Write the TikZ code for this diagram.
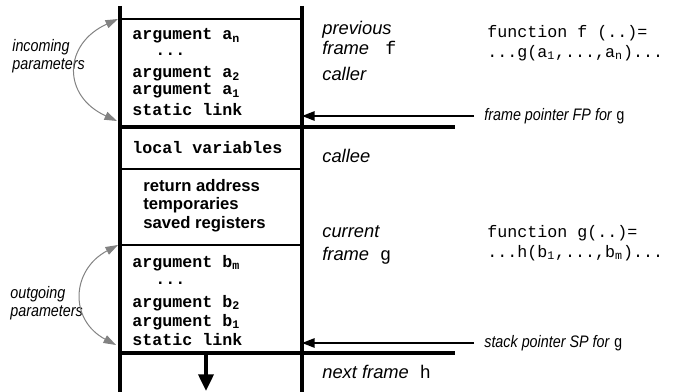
\documentclass[tikz,border=0pt]{standalone}
\usepackage{fontspec}
\setmainfont{Liberation Sans}
\setmonofont{Liberation Mono}
\usepackage{graphicx}
\usetikzlibrary{arrows.meta,positioning}
\definecolor{linkgray}{RGB}{130,130,130}
\newcommand{\narrow}[1]{\scalebox{0.86}[1]{#1}}
\newcommand{\ident}[1]{\textup{\ttfamily\ #1}}
\tikzset{
  wall/.style={line width=2pt},
  sep/.style={line width=1.2pt},
  bigsep/.style={line width=2.4pt},
  slot/.style={anchor=west,inner sep=0pt,font=\fontsize{10}{12}\selectfont\ttfamily\bfseries},
  saved/.style={anchor=west,inner sep=0pt,font=\fontsize{10}{12}\selectfont\bfseries},
  role/.style={anchor=west,inner sep=0pt,align=left,font=\fontsize{11}{12.5}\selectfont\itshape},
  side/.style={anchor=west,inner sep=0pt,align=left,font=\fontsize{10}{10.8}\selectfont\itshape},
  code/.style={anchor=west,inner sep=0pt,align=left,font=\fontsize{10}{12}\selectfont\ttfamily},
  pointer/.style={anchor=west,inner xsep=6pt,inner ysep=0pt,font=\fontsize{10}{12}\selectfont\itshape},
  ptr/.style={-{Triangle[length=7.5pt,width=5.5pt]},line width=1.2pt},
  push/.style={-{Triangle[length=10pt,width=9pt]},line width=2.2pt},
  param/.style={{Triangle[length=7.5pt,width=5pt]}-{Triangle[length=7.5pt,width=5pt]},
    draw=linkgray,fill=none,line width=0.6pt},
}
\begin{document}
\begin{tikzpicture}[x=0.6pt,y=-0.6pt]
  \useasboundingbox (0,0) rectangle (673,392);
  % the stack
  \draw[wall] (120,6) -- (120,392);
  \draw[wall] (302,6) -- (302,392);
  \draw[sep] (120,19) -- (302,19);
  \draw[bigsep] (120,127) -- (455,127);
  \draw[sep] (120,169) -- (302,169);
  \draw[sep] (120,245) -- (302,245);
  \draw[bigsep] (120,353) -- (455,353);
  % previous frame
  \node[slot] (an) at (132,36) {argument a\textsubscript{n}};
  \node[slot] (adots) at (155,54) {...};
  \node[slot] (a2) at (132,74) {argument a\textsubscript{2}};
  \node[slot] (a1) at (132,91) {argument a\textsubscript{1}};
  \node[slot] (alink) at (132,110) {static link};
  % current frame
  \node[slot] (locals) at (132,148) {local variables};
  \node[saved] (ret) at (143,186) {return address};
  \node[saved] (temps) at (143,205) {temporaries};
  \node[saved] (regs) at (143,224) {saved registers};
  \node[slot] (bm) at (132,263) {argument b\textsubscript{m}};
  \node[slot] (bdots) at (155,283) {...};
  \node[slot] (b2) at (132,303) {argument b\textsubscript{2}};
  \node[slot] (b1) at (132,322) {argument b\textsubscript{1}};
  \node[slot] (blink) at (132,340) {static link};
  % roles
  \node[role] (prev) at (322,38) {previous\\frame \ident{f}};
  \node[role] (caller) at (322,74) {caller};
  \node[role] (callee) at (322,156) {callee};
  \node[role] (cur) at (322,245) {current\\[0.8pt]frame\ident{g}};
  \node[role] (next) at (322,372) {next frame\ident{h}};
  % code
  \node[code] (fcode) at (487,43) {function f (..)=\\...g(a\textsubscript{1},...,a\textsubscript{n})...};
  \node[code] (gcode) at (487,243) {function g(..)=\\...h(b\textsubscript{1},...,b\textsubscript{m})...};
  % pointers
  \coordinate (fptip) at (302,116);
  \coordinate (sptip) at (302,343);
  \node[pointer] (fp) at (474,116) {\narrow{frame pointer FP for \textup{\ttfamily g}}};
  \node[pointer] (sp) at (474,343) {\narrow{stack pointer SP for \textup{\ttfamily g}}};
  \draw[ptr] (fp.west) -- (fptip);
  \draw[ptr] (sp.west) -- (sptip);
  \coordinate (grow) at (206,353);
  \coordinate (growtip) at (206,391);
  \draw[push] (grow) -- (growtip);
  % parameters
  \node[side] (incoming) at (12,56) {\narrow{incoming}\\\narrow{parameters}};
  \node[side] (outgoing) at (10,303) {\narrow{outgoing}\\\narrow{parameters}};
  \coordinate (inTop) at (118,19);
  \coordinate (inBot) at (117,121);
  \coordinate (outTop) at (118,245);
  \coordinate (outBot) at (116,345);
  \draw[param] (inBot) .. controls +(-55,-25) and +(-55,25) .. (inTop);
  \draw[param] (outBot) .. controls +(-47,-25) and +(-47,25) .. (outTop);
\end{tikzpicture}
\end{document}
